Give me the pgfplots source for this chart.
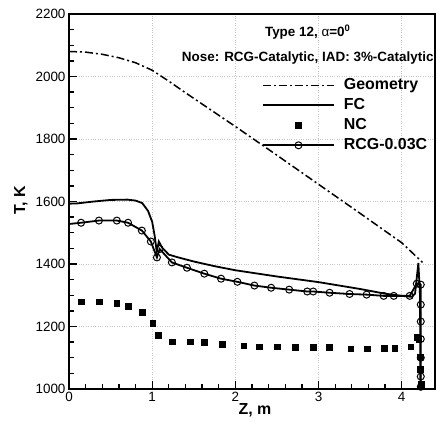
\documentclass[border=0pt]{standalone}
\usepackage{fontspec}
\setmainfont{Liberation Sans}
\usepackage{pgfplots}
\pgfplotsset{compat=1.18}
\usetikzlibrary{calc}
\begin{document}
\begin{tikzpicture}
\begin{axis}[
  scale only axis, width=366bp, height=375bp,
  xmin=0, xmax=4.4, ymin=1000, ymax=2200,
  xtick={0,1,2,3,4}, ytick={1000,1200,...,2200},
  minor x tick num=4, minor y tick num=3,
  tick pos=left, tick align=inside,
  major tick length=8bp, minor tick length=5bp,
  every tick/.style={black, line width=1.3bp},
  axis line style={line width=2bp},
  grid=major, grid style={dotted, gray!45, line width=0.6bp},
  tick label style={font=\fontsize{13.5}{15}\selectfont},
  /pgf/number format/assume math mode=true,
  /pgf/number format/1000 sep={},
  legend style={draw=none, fill=none, at={(axis description cs:0.527,0.837)}, anchor=north west,
    font=\fontsize{16}{18}\selectfont\bfseries, inner sep=0pt, row sep=0pt,
    nodes={inner xsep=9bp, inner ysep=2bp, text height=12bp, text depth=4bp}},
  legend cell align=left,
  legend image code/.code={\draw[mark repeat=2,mark phase=2,#1] plot coordinates {(0bp,0bp) (35.5bp,0bp) (71bp,0bp)};},
]
% Geometry
\addplot[black, line width=1.5bp, dash pattern=on 8bp off 3bp on 2bp off 3bp] coordinates {
(0,2080)(0.2,2078)(0.4,2071)(0.6,2060)(0.8,2044)(1.0,2020)(1.2,1985)(1.4,1948)(1.6,1912)(1.8,1876)(2.0,1840)(2.5,1748)(3.0,1655)(3.5,1562)(4.0,1468)(4.25,1405)};
\addlegendentry{Geometry}
% FC
\addplot[black, line width=1.8bp] coordinates {
(0,1593)(0.1,1594)(0.3,1600)(0.5,1605)(0.7,1606)(0.8,1603)(0.88,1595)(0.95,1570)(1.0,1535)(1.03,1490)(1.055,1440)(1.08,1472)(1.12,1452)(1.2,1430)(1.3,1422)(1.5,1408)(1.75,1393)(2.0,1380)(2.5,1360)(3.0,1342)(3.5,1320)(3.8,1305)(4.0,1298)(4.12,1295)(4.16,1305)(4.2,1403)(4.22,1300)(4.225,1000)};
\addlegendentry{FC}
% NC
\addplot[black, only marks, mark=square*, mark size=2.8bp] coordinates {
(0.145,1279)(0.361,1279)(0.575,1274)(0.711,1264)(0.880,1245)(1.008,1210)(1.072,1173)(1.241,1152)(1.458,1152)(1.627,1149)(1.843,1144)(2.1,1138)(2.286,1136)(2.502,1136)(2.719,1133)(2.936,1133)(3.129,1133)(3.386,1129)(3.587,1129)(3.787,1131)(3.916,1131)(4.108,1135)(4.189,1165)(4.205,1160)(4.22,1104)(4.22,1063)(4.237,1016)(4.237,1010)};
\addlegendentry{NC}
% RCG-0.03C line
\addplot[black, line width=1.8bp, forget plot] coordinates {
(0,1528)(0.145,1532)(0.36,1539)(0.575,1539)(0.71,1532)(0.876,1507)(0.984,1472)(1.057,1421)(1.09,1448)(1.237,1405)(1.418,1388)(1.627,1369)(1.828,1353)(2.024,1343)(2.229,1331)(2.43,1324)(2.647,1318)(2.864,1312)(2.936,1312)(3.133,1308)(3.373,1304)(3.578,1302)(3.783,1298)(3.904,1298)(4.096,1298)(4.181,1337)(4.229,1334)(4.229,1270)(4.229,1216)(4.229,1160)(4.229,1100)(4.229,1040)(4.229,1007)};
% RCG-0.03C marks
\addplot[black, only marks, mark=o, mark size=3.5bp, mark options={line width=1bp}, forget plot] coordinates {
(0.145,1532)(0.36,1539)(0.575,1539)(0.71,1532)(0.876,1507)(0.984,1472)(1.057,1421)(1.09,1448)(1.237,1405)(1.418,1388)(1.627,1369)(1.828,1353)(2.024,1343)(2.229,1331)(2.43,1324)(2.647,1318)(2.864,1312)(2.936,1312)(3.133,1308)(3.373,1304)(3.578,1302)(3.783,1298)(3.904,1298)(4.096,1298)(4.181,1337)(4.229,1334)(4.229,1270)(4.229,1216)(4.229,1160)(4.229,1100)(4.229,1040)(4.229,1007)};
\addlegendimage{black, line width=1.8bp, mark=o, mark size=3.5bp, mark options={line width=1bp, fill=white}}
\addlegendentry{RCG-0.03C}
\node[font=\fontsize{13.5}{15}\selectfont\bfseries] at (axis cs:2.87,2142) {Type 12, {\mdseries α}=0\textsuperscript{0}};
\node[font=\fontsize{13.5}{15}\selectfont\bfseries] at (axis cs:2.87,2060) {Nose: RCG-Catalytic, IAD: 3\%-Catalytic};
\end{axis}
\node[font=\fontsize{16}{18}\selectfont\bfseries] at ($(current axis.south west)+(186bp,-21bp)$) {Z, m};
\node[font=\fontsize{16}{18}\selectfont\bfseries, rotate=90] at ($(current axis.south west)+(-48bp,189bp)$) {T, K};
\pgfresetboundingbox
\useasboundingbox ($(current axis.south west)+(-69bp,-33bp)$) rectangle ($(current axis.north east)+(1bp,14bp)$);
\end{tikzpicture}
\end{document}
